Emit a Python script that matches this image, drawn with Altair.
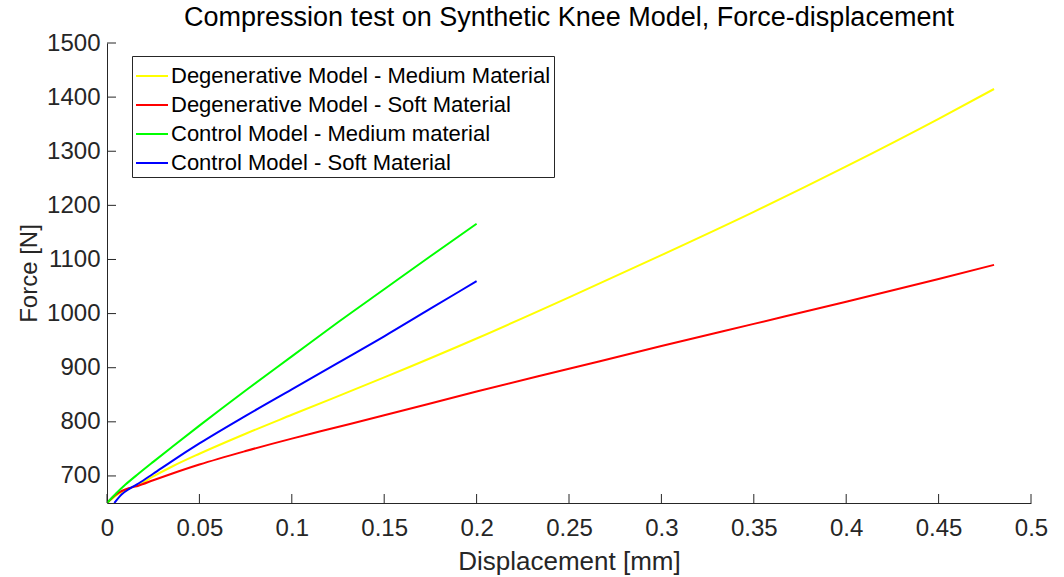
import altair as alt
import pandas as pd

# ---- data ----
deg_med_x = [0, 0.005, 0.0125, 0.017, 0.025, 0.035, 0.05, 0.075, 0.1, 0.15, 0.2, 0.25, 0.3, 0.35, 0.4, 0.45, 0.48]
deg_med_y = [650, 664, 678, 683, 699, 717, 741, 778, 813, 882, 954, 1030, 1108, 1188, 1272, 1360, 1415]

deg_soft_x = [0, 0.005, 0.0125, 0.017, 0.025, 0.035, 0.05, 0.075, 0.1, 0.115, 0.15, 0.2, 0.25, 0.3, 0.35, 0.4, 0.45, 0.48]
deg_soft_y = [650, 666, 678, 682, 692, 704, 721, 746, 769, 782, 812, 856, 898, 940, 981, 1022, 1064, 1090]

ctrl_med_x = [0, 0.005, 0.01, 0.017, 0.025, 0.035, 0.05, 0.075, 0.1, 0.125, 0.15, 0.175, 0.2]
ctrl_med_y = [650, 668, 684, 704, 726, 753, 793, 858, 921, 984, 1045, 1106, 1166]

ctrl_soft_x = [0.004, 0.008, 0.0125, 0.017, 0.025, 0.035, 0.05, 0.075, 0.1, 0.125, 0.15, 0.175, 0.2]
ctrl_soft_y = [650, 666, 677, 686, 704, 727, 760, 811, 860, 909, 958, 1009, 1060]

series_names = [
    "Degenerative Model - Medium Material",
    "Degenerative Model - Soft Material",
    "Control Model - Medium material",
    "Control Model - Soft Material",
]
series_colors = ["#FFFF00", "#FF0000", "#00FF00", "#0000FF"]

x_ticks = [0, 0.05, 0.1, 0.15, 0.2, 0.25, 0.3, 0.35, 0.4, 0.45, 0.5]
y_ticks = [700, 800, 900, 1000, 1100, 1200, 1300, 1400, 1500]

rows = []
for name, xs, ys in zip(series_names,
                        [deg_med_x, deg_soft_x, ctrl_med_x, ctrl_soft_x],
                        [deg_med_y, deg_soft_y, ctrl_med_y, ctrl_soft_y]):
    for i, (xv, yv) in enumerate(zip(xs, ys)):
        rows.append({"series": name, "d": xv, "f": yv, "i": i})
df = pd.DataFrame(rows)

FONT = "Liberation Sans"
AX = "#262626"
W, H = 924, 460

xscale = alt.Scale(domain=[0, 0.5], nice=False, zero=False)
yscale = alt.Scale(domain=[650, 1500], nice=False, zero=False)

lines = alt.Chart(df).mark_line(strokeWidth=2, clip=True, interpolate="monotone").encode(
    x=alt.X("d:Q", scale=xscale, title="Displacement [mm]",
            axis=alt.Axis(values=x_ticks, ticks=False, grid=False, format="~g",
                          labelFlush=False, labelPadding=13, titlePadding=8,
                          titleFontSize=26)),
    y=alt.Y("f:Q", scale=yscale, title="Force [N]",
            axis=alt.Axis(values=y_ticks, ticks=False, grid=False, format="d",
                          labelFlush=False, labelPadding=7, titlePadding=5,
                          titleFontSize=24)),
    color=alt.Color("series:N",
                    scale=alt.Scale(domain=series_names, range=series_colors),
                    legend=alt.Legend(title=None, orient="none", legendX=25, legendY=13,
                                      symbolType="stroke", symbolSize=1024,
                                      symbolStrokeWidth=2, rowPadding=1,
                                      labelOffset=2, padding=3, labelLimit=0,
                                      strokeColor=AX, fillColor="white")),
    order="i:Q",
)

xt = pd.DataFrame({"v": x_ticks})
yt = pd.DataFrame({"v": y_ticks})

xtick_marks = alt.Chart(xt).mark_rule(color=AX, strokeWidth=1).encode(
    x=alt.X("v:Q", scale=xscale), y=alt.value(H), y2=alt.value(H - 9))
ytick_marks = alt.Chart(yt).mark_rule(color=AX, strokeWidth=1).encode(
    y=alt.Y("v:Q", scale=yscale), x=alt.value(0), x2=alt.value(9))

chart = alt.layer(lines, xtick_marks, ytick_marks).properties(
    width=W, height=H,
    background="white",
    title=alt.TitleParams("Compression test on Synthetic Knee Model, Force-displacement",
                          font=FONT, fontSize=27, fontWeight="normal", color="black",
                          anchor="middle", offset=-1),
    autosize=alt.AutoSizeParams(type="none"),
    padding={"left": 107, "top": 43, "right": 33, "bottom": 74},
).configure_view(stroke=None).configure_axis(
    domainColor=AX, labelColor=AX, titleColor=AX, labelFont=FONT, titleFont=FONT,
    labelFontSize=24, titleFontWeight="normal",
).configure_legend(
    labelFont=FONT, labelFontSize=22, labelColor="black",
)

chart.save("out.html", embed_options={"renderer": "svg", "actions": False})
